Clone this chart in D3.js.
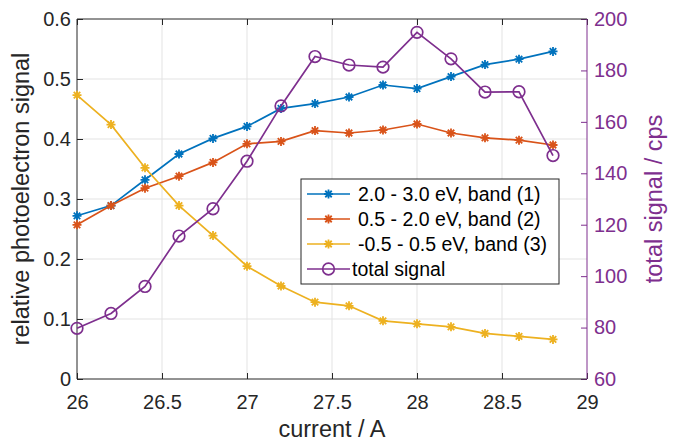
<!DOCTYPE html>
<html>
<head>
<meta charset="utf-8">
<script src="https://cdn.jsdelivr.net/npm/d3@7"></script>
<style>
  html, body { margin: 0; padding: 0; background: #fff; }
  svg { display: block; font-family: "Liberation Sans", Arial, Helvetica, sans-serif; }
</style>
</head>
<body>
<svg id="chart" width="673" height="443"></svg>
<script>
// Photoelectron band signals vs. coil current, with total count rate on a second axis
const current = [26.0, 26.2, 26.4, 26.6, 26.8, 27.0, 27.2, 27.4, 27.6, 27.8, 28.0, 28.2, 28.4, 28.6, 28.8];
const band1 = [0.272, 0.289, 0.332, 0.375, 0.401, 0.421, 0.451, 0.459, 0.470, 0.490, 0.484, 0.504, 0.524, 0.533, 0.546];
const band2 = [0.257, 0.289, 0.318, 0.338, 0.361, 0.392, 0.396, 0.414, 0.410, 0.415, 0.425, 0.410, 0.402, 0.398, 0.390];
const band3 = [0.473, 0.424, 0.352, 0.289, 0.239, 0.188, 0.155, 0.128, 0.122, 0.097, 0.092, 0.087, 0.076, 0.071, 0.066];
const totalSignal = [79.7, 85.5, 96.0, 115.6, 126.2, 144.7, 166.2, 185.4, 182.1, 181.3, 194.8, 184.5, 171.6, 171.7, 146.9];

const xTicks = [26, 26.5, 27, 27.5, 28, 28.5, 29];
const yLeftTicks = [0, 0.1, 0.2, 0.3, 0.4, 0.5, 0.6];
const yRightTicks = [60, 80, 100, 120, 140, 160, 180, 200];

const seriesNames = ["2.0 - 3.0 eV, band (1)", "0.5 - 2.0 eV, band (2)", "-0.5 - 0.5 eV, band (3)", "total signal"];
const seriesColors = ["#0072BD", "#D95319", "#EDB120", "#7E2F8E"];

const axisColor = "#262626";
const gridColor = "#e3e3e3";
const tickFont = 20;
const labelFont = 23.5;
const legendFont = 19.5;

const margin = { left: 77, right: 86, top: 19, bottom: 64 };
const W = 673, H = 443;
const pw = W - margin.left - margin.right;
const ph = H - margin.top - margin.bottom;

const svg = d3.select("#chart");
const g = svg.append("g").attr("transform", `translate(${margin.left},${margin.top})`);

const x = d3.scaleLinear().domain([26, 29]).range([0, pw]);
const yL = d3.scaleLinear().domain([0, 0.6]).range([ph, 0]);
const yR = d3.scaleLinear().domain([60, 200]).range([ph, 0]);

// grid
g.append("g").selectAll("line").data(xTicks.slice(1, -1)).join("line")
  .attr("x1", d => x(d)).attr("x2", d => x(d)).attr("y1", 0).attr("y2", ph)
  .attr("stroke", gridColor).attr("stroke-width", 1);
g.append("g").selectAll("line").data(yLeftTicks.slice(1, -1)).join("line")
  .attr("y1", d => yL(d)).attr("y2", d => yL(d)).attr("x1", 0).attr("x2", pw)
  .attr("stroke", gridColor).attr("stroke-width", 1);

const tickLen = 6;
function styleAxis(sel, color, fs) {
  sel.select(".domain").remove();
  sel.selectAll(".tick line").attr("stroke", color);
  sel.selectAll(".tick text").attr("fill", color).attr("font-size", fs).attr("font-family", null);
}

// bottom axis (ticks inward)
const xAxis = g.append("g").attr("transform", `translate(0,${ph})`)
  .call(d3.axisBottom(x).tickValues(xTicks).tickFormat(d3.format("~g")).tickSizeInner(-tickLen).tickSizeOuter(0));
styleAxis(xAxis, axisColor, tickFont);
xAxis.selectAll(".tick text").attr("dy", null).attr("y", 30);

// top axis mirror ticks
const xTop = g.append("g")
  .call(d3.axisTop(x).tickValues(xTicks).tickFormat("").tickSizeInner(-tickLen).tickSizeOuter(0));
styleAxis(xTop, axisColor, tickFont);

// left axis
const yAxisL = g.append("g")
  .call(d3.axisLeft(yL).tickValues(yLeftTicks).tickFormat(d3.format("~g")).tickSizeInner(-tickLen).tickSizeOuter(0));
styleAxis(yAxisL, axisColor, tickFont);
yAxisL.selectAll(".tick text").attr("x", -6);

// right axis
const yAxisR = g.append("g").attr("transform", `translate(${pw},0)`)
  .call(d3.axisRight(yR).tickValues(yRightTicks).tickFormat(d3.format("d")).tickSizeInner(-tickLen).tickSizeOuter(0));
styleAxis(yAxisR, seriesColors[3], tickFont);
yAxisR.selectAll(".tick text").attr("x", 7);

// axis lines
g.append("line").attr("x1", 0).attr("x2", pw).attr("y1", ph).attr("y2", ph).attr("stroke", axisColor);
g.append("line").attr("x1", 0).attr("x2", pw).attr("y1", 0).attr("y2", 0).attr("stroke", axisColor);
g.append("line").attr("x1", 0).attr("x2", 0).attr("y1", 0).attr("y2", ph).attr("stroke", axisColor);
g.append("line").attr("x1", pw).attr("x2", pw).attr("y1", 0).attr("y2", ph).attr("stroke", seriesColors[3]);

// axis labels
svg.append("text").attr("x", margin.left + pw / 2).attr("y", 437)
  .attr("text-anchor", "middle").attr("font-size", labelFont).attr("fill", axisColor).text("current / A");
svg.append("text").attr("transform", `translate(29,${margin.top + ph / 2}) rotate(-90)`)
  .attr("text-anchor", "middle").attr("font-size", labelFont).attr("fill", axisColor).text("relative photoelectron signal");
svg.append("text").attr("transform", `translate(662,${margin.top + ph / 2}) rotate(-90)`)
  .attr("text-anchor", "middle").attr("font-size", labelFont).attr("fill", seriesColors[3]).text("total signal / cps");

// markers
function star(sel, color) {
  const r = 4.5;
  const q = r * 0.72;
  const d = `M${-r},0L${r},0M0,${-r}L0,${r}M${-q},${-q}L${q},${q}M${-q},${q}L${q},${-q}`;
  sel.append("path").attr("d", d).attr("stroke", color).attr("stroke-width", 1.8).attr("fill", "none");
}
function circle(sel, color) {
  sel.append("circle").attr("r", 5.8).attr("fill", "none").attr("stroke", color).attr("stroke-width", 1.7);
}

const bands = [band1, band2, band3];
bands.forEach((vals, i) => {
  const line = d3.line().x((d, k) => x(current[k])).y(d => yL(d));
  g.append("path").datum(vals).attr("d", line).attr("fill", "none")
    .attr("stroke", seriesColors[i]).attr("stroke-width", 1.7);
  g.append("g").selectAll("g").data(vals).join("g")
    .attr("transform", (d, k) => `translate(${x(current[k])},${yL(d)})`)
    .each(function () { star(d3.select(this), seriesColors[i]); });
});

const totLine = d3.line().x((d, k) => x(current[k])).y(d => yR(d));
g.append("path").datum(totalSignal).attr("d", totLine).attr("fill", "none")
  .attr("stroke", seriesColors[3]).attr("stroke-width", 1.7);
g.append("g").selectAll("g").data(totalSignal).join("g")
  .attr("transform", (d, k) => `translate(${x(current[k])},${yR(d)})`)
  .each(function () { circle(d3.select(this), seriesColors[3]); });

// legend
const lg = svg.append("g").attr("transform", "translate(301,179)");
lg.append("rect").attr("x", 0).attr("y", 0).attr("width", 258).attr("height", 105)
  .attr("fill", "#fff").attr("stroke", axisColor).attr("stroke-width", 1);
seriesNames.forEach((name, i) => {
  const row = lg.append("g").attr("transform", `translate(0,${15 + i * 25})`);
  row.append("line").attr("x1", 6).attr("x2", 49).attr("stroke", seriesColors[i]).attr("stroke-width", 1.7);
  const m = row.append("g").attr("transform", "translate(27.5,0)");
  if (i < 3) star(m, seriesColors[i]); else circle(m, seriesColors[i]);
  row.append("text").attr("x", i < 3 ? 57 : 51).attr("y", 0).attr("dy", "0.35em")
    .attr("font-size", legendFont).attr("fill", "#000").text(name);
});
</script>
</body>
</html>
